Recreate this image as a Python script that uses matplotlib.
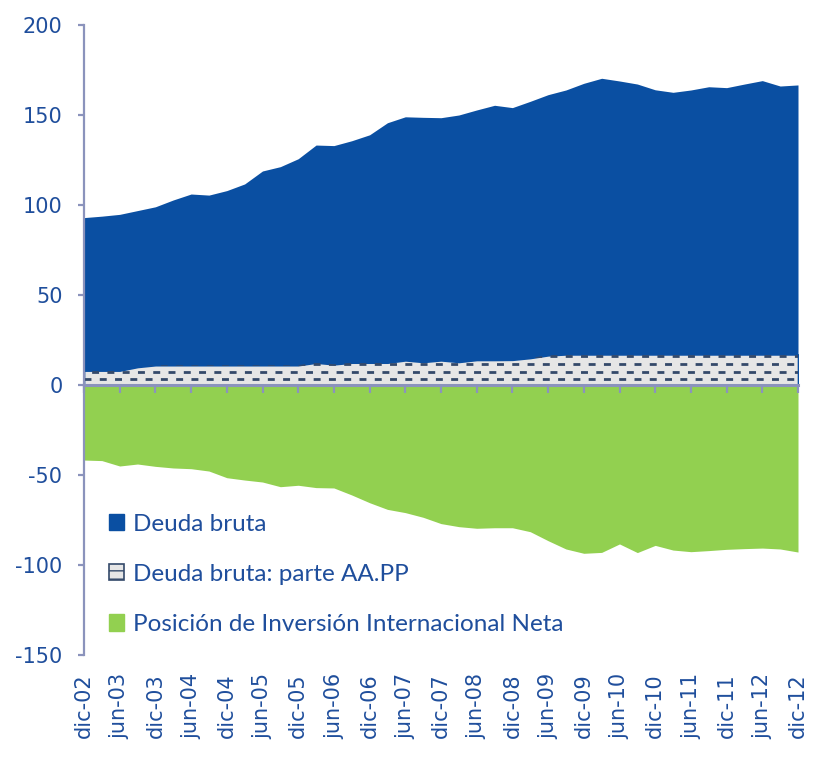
import numpy as np
import matplotlib
matplotlib.use("Agg")
import matplotlib.pyplot as plt
from matplotlib.patches import Patch

# quarterly data, dic-02 .. dic-12 (41 quarters)
deuda_bruta = [
    93.0, 93.8, 94.8, 96.9, 99.0, 102.8, 106.1, 105.5, 108.0, 111.7,
    118.9, 121.3, 125.7, 133.3, 133.0, 135.7, 139.0, 145.7, 149.0, 148.7,
    148.5, 150.0, 152.8, 155.4, 154.1, 157.6, 161.3, 163.9, 167.6, 170.4,
    168.9, 167.2, 164.0, 162.6, 163.9, 165.7, 165.2, 167.2, 169.1, 166.1,
    166.7,
]
deuda_aapp = [
    8.0, 8.0, 8.0, 10.0, 11.0, 11.0, 11.0, 11.0, 11.0, 11.0,
    11.0, 11.0, 11.0, 12.4, 11.5, 12.4, 12.4, 12.4, 13.7, 12.8,
    13.7, 12.8, 13.9, 13.9, 14.0, 15.0, 16.5, 17.0, 17.0, 17.0,
    17.0, 17.0, 17.0, 17.0, 17.0, 17.0, 17.0, 17.0, 17.0, 17.0,
    17.0,
]
piin = [
    -41.7, -42.0, -45.0, -43.9, -45.2, -46.1, -46.5, -47.8, -51.5, -52.8,
    -53.9, -56.5, -55.7, -57.0, -57.2, -61.1, -65.4, -69.1, -70.9, -73.5,
    -77.0, -78.7, -79.6, -79.3, -79.3, -81.5, -86.5, -91.1, -93.5, -93.0,
    -88.3, -93.1, -89.1, -91.7, -92.6, -92.0, -91.3, -90.9, -90.6, -91.1,
    -92.8,
]
tick_labels = [
    "dic-02", "jun-03", "dic-03", "jun-04", "dic-04", "jun-05", "dic-05",
    "jun-06", "dic-06", "jun-07", "dic-07", "jun-08", "dic-08", "jun-09",
    "dic-09", "jun-10", "dic-10", "jun-11", "dic-11", "jun-12", "dic-12",
]
legend_labels = [
    "Deuda bruta",
    "Deuda bruta: parte AA.PP",
    "Posición de Inversión Internacional Neta",
]

BLUE = "#0a4fa2"
GREEN = "#92d050"
HATCH_BG = "#e6e6e6"
HATCH_FG = "#34496a"
TEXT = "#1f4e9c"
AXIS = "#8b93bc"

plt.rcParams["lines.scale_dashes"] = False
plt.rcParams["axes.unicode_minus"] = False

x = np.arange(len(deuda_bruta))

fig = plt.figure(figsize=(8.16, 7.64), dpi=100)
ax = fig.add_axes([84 / 816, 1 - 655 / 764, 714 / 816, 630 / 764])

ax.fill_between(x, 0, deuda_bruta, color=BLUE, linewidth=0, zorder=1)
ax.fill_between(x, 0, piin, color=GREEN, linewidth=0, zorder=1)
hatched = ax.fill_between(x, 0, deuda_aapp, facecolor=HATCH_BG,
                          edgecolor=BLUE, linewidth=1.2, zorder=1.2)

# brick-style dashed pattern inside the AA.PP area
clip_path = hatched.get_paths()[0]
for k, yrow in enumerate(np.arange(3.2, 20, 4.25)):
    offset = 0 if k % 2 == 0 else 5.5
    ln, = ax.plot([0, 40], [yrow, yrow], color=HATCH_FG, linewidth=2.0,
                  linestyle=(offset, (5.0, 6.0)), zorder=1.3)
    ln.set_clip_path(clip_path, ax.transData)

ax.set_xlim(0, 40)
ax.set_ylim(-150, 200)
ax.set_yticks(np.arange(-150, 201, 50))

for side in ("top", "right"):
    ax.spines[side].set_visible(False)
ax.spines["left"].set_color(AXIS)
ax.spines["left"].set_linewidth(1.6)
ax.spines["bottom"].set_position(("data", 0))
ax.spines["bottom"].set_color(AXIS)
ax.spines["bottom"].set_linewidth(2.2)
ax.spines["bottom"].set_zorder(3)

ax.set_xticks(np.arange(0, 41, 2))
ax.tick_params(axis="x", direction="out", length=6, width=1.6,
               color=AXIS, labelbottom=False)
ax.tick_params(axis="y", direction="out", length=4.5, width=1.6,
               color=AXIS, pad=11, labelsize=15, labelcolor=TEXT)

sec = ax.secondary_xaxis(location=0.0)
sec.set_xticks(np.arange(0, 41, 2))
sec.set_xticklabels(tick_labels, rotation=90, va="top", ha="center")
sec.tick_params(axis="x", length=0, pad=13, labelsize=15, labelcolor=TEXT)
sec.spines["bottom"].set_visible(False)

handles = [
    Patch(facecolor=BLUE, edgecolor=BLUE),
    Patch(facecolor=HATCH_BG, edgecolor=HATCH_FG, hatch="--", linewidth=1.2),
    Patch(facecolor=GREEN, edgecolor=GREEN),
]
leg = ax.legend(handles, legend_labels, loc="upper left",
                bbox_to_anchor=(0.022, 0.24), frameon=False,
                handlelength=0.58, handleheight=0.66, handletextpad=0.4,
                labelspacing=1.2, borderaxespad=0,
                prop={"family": "Lato", "size": 17.5})
for t in leg.get_texts():
    t.set_color(TEXT)

fig.savefig("out.png", dpi=100)
